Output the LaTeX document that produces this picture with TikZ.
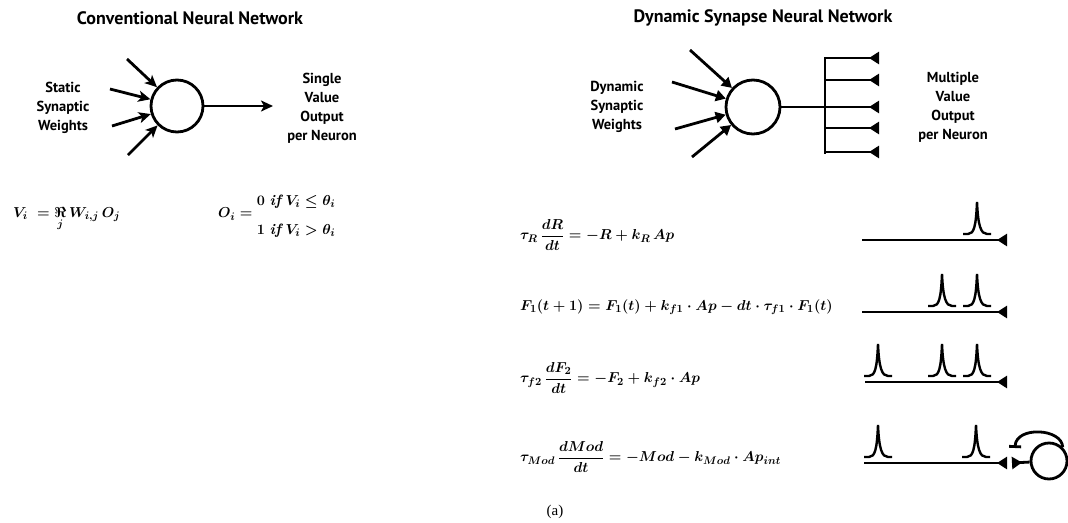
\documentclass[tikz,border=0pt]{standalone}
\usepackage{amsmath,amssymb}
\usepackage{fontspec}
\newfontfamily\headfont{PT Sans}
\newfontfamily\capfont{Liberation Serif}
\usepackage{tikz}
\usetikzlibrary{arrows.meta, positioning, calc}
\tikzset{
  titletext/.style={font=\headfont\bfseries\fontsize{18}{20}\selectfont},
  wordbox/.style={align=center, font=\headfont\bfseries\fontsize{14.5}{19}\selectfont},
  eqtext/.style={anchor=west, inner sep=0pt, font=\fontsize{15}{18}\selectfont\boldmath},
  neuron/.style={circle, draw, line width=2.8pt, minimum size=52pt, inner sep=0pt},
  inarrow/.style={line width=2.8pt, -{Stealth[length=12pt, width=11pt, inset=3pt]}},
  synline/.style={line width=2.8pt, -{Triangle[length=10pt, width=11pt]}},
  thickline/.style={line width=2.8pt},
  branchline/.style={line width=2.8pt, -{Triangle[reversed, length=10pt, width=12pt]}},
  apspike/.pic={
    \draw[line width=2.4pt] (-14,-6) -- (-9,-6) .. controls (-3,-6) and (-1,-14) .. (0,-38)
      .. controls (1,-14) and (4,-6) .. (10,-6) -- (14,-6);
  }
}
\newcommand{\condif}{\;\text{\bfseries\itshape if}\;}
\begin{document}
\begin{tikzpicture}[x=1pt, y=-1pt]
  \fill[white] (0,0) rectangle (1068,522);
  \useasboundingbox (0,0) rectangle (1068,522);

  % Conventional network
  \node[titletext] (convtitle) at (190,18) {Conventional Neural Network};
  \node[neuron] (cnn) at (177,106) {};
  \node[wordbox] (static) at (63,108) {Static\\Synaptic\\Weights};
  \node[wordbox] (single) at (322,108) {Single\\Value\\Output\\per Neuron};
  \coordinate (ca) at (127,59);
  \coordinate (cb) at (110,89);
  \coordinate (cc) at (112,126);
  \coordinate (cd) at (128,155);
  \foreach \c in {ca,cb,cc,cd}
    \draw[inarrow] (\c) -- (cnn);
  \coordinate (cout) at (273,106);
  \draw[inarrow] (cnn) -- (cout);

  \node[eqtext] (veq) at (13,219) {$V_i \;=\underset{j}{\Re}\,W_{i,j}\,O_j$};
  \node[eqtext] (oeq) at (218,214) {$O_i = {\renewcommand{\arraystretch}{1.6}\begin{array}{@{}l@{}}
      0\condif V_i \le \theta_i\\ 1\condif V_i > \theta_i\end{array}}$};

  % Dynamic synapse network
  \node[titletext] (dsntitle) at (763,18) {Dynamic Synapse Neural Network};
  \node[neuron, minimum size=54pt] (dsn) at (753,107) {};
  \node[wordbox] (dynamic) at (617,107) {Dynamic\\Synaptic\\Weights};
  \node[wordbox] (multiple) at (953,107) {Multiple\\Value\\Output\\per Neuron};
  \coordinate (da) at (690,50);
  \coordinate (db) at (672,82);
  \coordinate (dc) at (675,129);
  \coordinate (dd) at (692,157);
  \foreach \c in {da,db,dc,dd}
    \draw[synline] (\c) -- (dsn);
  \coordinate (bus) at (825,107);
  \coordinate (bustop) at (825,57);
  \coordinate (busbot) at (825,154);
  \draw[thickline] (dsn) -- (bus);
  \draw[thickline] (bustop) -- (busbot);
  \foreach \y [count=\i] in {58,80,107,128,152} {
    \coordinate (root\i) at (825,\y);
    \coordinate (tap\i) at (879,\y);
    \draw[branchline] (root\i) -- (tap\i);
  }

  % synapse equations
  \node[eqtext] (eqr) at (520,235) {$\tau_R\,\dfrac{dR}{dt} = -R + k_R\,Ap$};
  \node[eqtext] (eqfa) at (520,307) {$F_1(t+1) = F_1(t) + k_{f1}\cdot Ap - dt\cdot\tau_{f1}\cdot F_1(t)$};
  \node[eqtext] (eqfb) at (520,378) {$\tau_{f2}\,\dfrac{dF_2}{dt} = -F_2 + k_{f2}\cdot Ap$};
  \node[eqtext] (eqmod) at (520,457) {$\tau_{Mod}\,\dfrac{dMod}{dt} = -Mod - k_{Mod}\cdot Ap_{int}$};

  \coordinate (ra) at (862,240);
  \coordinate (rb) at (1007,240);
  \draw[branchline] (ra) -- (rb);
  \pic at (977,240) {apspike};

  \coordinate (fa) at (862,312);
  \coordinate (fb) at (1007,312);
  \draw[branchline] (fa) -- (fb);
  \foreach \x in {942,977}
    \pic at (\x,312) {apspike};

  \coordinate (ga) at (865,382);
  \coordinate (gb) at (1007,382);
  \draw[branchline] (ga) -- (gb);
  \foreach \x in {878,942,977}
    \pic at (\x,382) {apspike};

  \coordinate (ma) at (864,463);
  \coordinate (mb) at (1007,463);
  \draw[branchline] (ma) -- (mb);
  \foreach \x in {878,976}
    \pic at (\x,463) {apspike};
  \node[neuron, minimum size=36pt] (modn) at (1049,461) {};
  \coordinate (mc) at (1012,463);
  \draw[thickline, {Triangle[reversed, length=10pt, width=12pt]}-] (mc) -- (modn);
  \draw[thickline, -{Bar[width=12pt]}] (modn.north east) .. controls (1062,428) and (1016,426) .. (1015,448);

  \node[font=\capfont\fontsize{15}{17}\selectfont] (cap) at (555,512) {(a)};
\end{tikzpicture}
\end{document}
